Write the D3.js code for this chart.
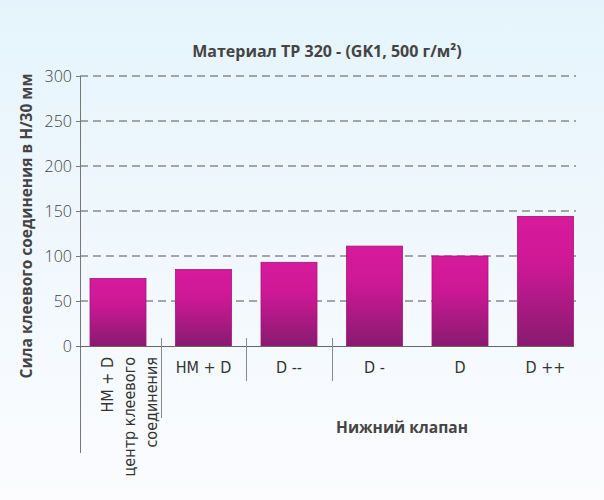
<!DOCTYPE html>
<html><head><meta charset="utf-8">
<script src="https://cdn.jsdelivr.net/npm/d3@7"></script>
<style>html,body{margin:0;padding:0;}svg{display:block;}</style>
</head><body>
<script>
const categories = ["HM + D (центр)", "HM + D", "D --", "D -", "D", "D ++"];
const values = [75, 85, 93, 111, 100, 144];
const yTicks = [0, 50, 100, 150, 200, 250, 300];
const title = "Материал TP 320 - (GK1, 500 г/м²)";
const yTitle = "Сила клеевого соединения в Н/30 мм";
const xTitle = "Нижний клапан";
const firstLabelLines = ["HM + D", "центр клеевого", "соединения"];

const W = 604, H = 500;
const svg = d3.select("body").append("svg").attr("width", W).attr("height", H);
const defs = svg.append("defs");
const bg = defs.append("linearGradient").attr("id","bg").attr("x1",0).attr("y1",0).attr("x2",0).attr("y2",1);
bg.append("stop").attr("offset","0").attr("stop-color","#e5f4fc");
bg.append("stop").attr("offset","1").attr("stop-color","#fcfcfe");
const bar = defs.append("linearGradient").attr("id","bar").attr("x1",0).attr("y1",0).attr("x2",0).attr("y2",1);
bar.append("stop").attr("offset","0").attr("stop-color","#d61a9c");
bar.append("stop").attr("offset","0.35").attr("stop-color","#cf1897");
bar.append("stop").attr("offset","1").attr("stop-color","#881b6f");
svg.append("rect").attr("width",W).attr("height",H).attr("fill","url(#bg)");

const x0 = 80, x1 = 583.5;
const y = d3.scaleLinear().domain([0,300]).range([346,76]);
const x = d3.scaleBand().domain(categories).range([x0, x1]).paddingInner(0.345).paddingOuter(0.117);

// gridlines
svg.append("g").selectAll("line").data(yTicks.filter(d=>d>0)).join("line")
  .attr("x1", x0).attr("x2", 576).attr("y1", d=>y(d)).attr("y2", d=>y(d))
  .attr("stroke","#555").attr("stroke-width",1).attr("stroke-dasharray","8,5");

// bars
svg.append("g").selectAll("rect").data(values).join("rect")
  .attr("x",(d,i)=>x(categories[i])).attr("width",x.bandwidth())
  .attr("y",d=>y(d)).attr("height",d=>y(0)-y(d))
  .attr("fill","url(#bar)").attr("stroke","#a3157f").attr("stroke-width",0.8);

// y axis
const yAxis = d3.axisLeft(y).tickValues(yTicks).tickSize(4).tickPadding(4);
const gy = svg.append("g").attr("transform",`translate(${x0},0)`).call(yAxis);
gy.select(".domain").remove();
gy.selectAll(".tick line").attr("stroke","#777");
gy.selectAll(".tick text").attr("font-family","'Open Sans', 'Liberation Sans', sans-serif")
  .attr("font-weight",300).attr("font-size",16).attr("fill","#444").attr("dy","0.35em");
svg.append("line").attr("x1",x0+0.5).attr("x2",x0+0.5).attr("y1",76).attr("y2",453).attr("stroke","#777");
// baseline
svg.append("line").attr("x1",x0).attr("x2",574).attr("y1",346.5).attr("y2",346.5).attr("stroke","#666");

// separators
const sep = [[0,418],[1,381],[2,381]];
svg.append("g").selectAll("line").data(sep).join("line")
  .attr("x1",d=>Math.round((x(categories[d[0]])+x.bandwidth()+x(categories[d[0]+1]))/2)+0.5)
  .attr("x2",d=>Math.round((x(categories[d[0]])+x.bandwidth()+x(categories[d[0]+1]))/2)+0.5)
  .attr("y1",338).attr("y2",d=>d[1]).attr("stroke","#888");

const lblFont = "'Liberation Sans Narrow','DejaVu Sans Condensed','Roboto',sans-serif";
// horizontal category labels
svg.append("g").selectAll("text").data(categories.slice(1)).join("text")
  .attr("x",d=>x(d)+x.bandwidth()/2).attr("y",373)
  .attr("text-anchor","middle").attr("font-family",lblFont).attr("font-size",16)
  .attr("fill","#333").text(d=>d);
// first category rotated
const cx = x(categories[0]) + x.bandwidth()/2;
svg.append("g").selectAll("text").data(firstLabelLines).join("text")
  .attr("transform",(d,i)=>`translate(${cx - 11 + i*22},357) rotate(-90)`)
  .attr("text-anchor","end").attr("dy","0.35em")
  .attr("font-family",lblFont).attr("font-size",16).attr("fill","#333").text(d=>d);

const boldFont = "'Open Sans','Noto Sans',sans-serif";
svg.append("text").attr("x",327).attr("y",57).attr("text-anchor","middle")
  .attr("font-family",boldFont).attr("font-weight",700).attr("font-size",16).attr("fill","#444").text(title);
svg.append("text").attr("transform","translate(32,226) rotate(-90)").attr("text-anchor","middle")
  .attr("font-family",boldFont).attr("font-weight",700).attr("font-size",15.5).attr("fill","#444").text(yTitle);
svg.append("text").attr("x",402).attr("y",433).attr("text-anchor","middle")
  .attr("font-family",boldFont).attr("font-weight",700).attr("font-size",15.5).attr("fill","#444").text(xTitle);
</script>
</body></html>
